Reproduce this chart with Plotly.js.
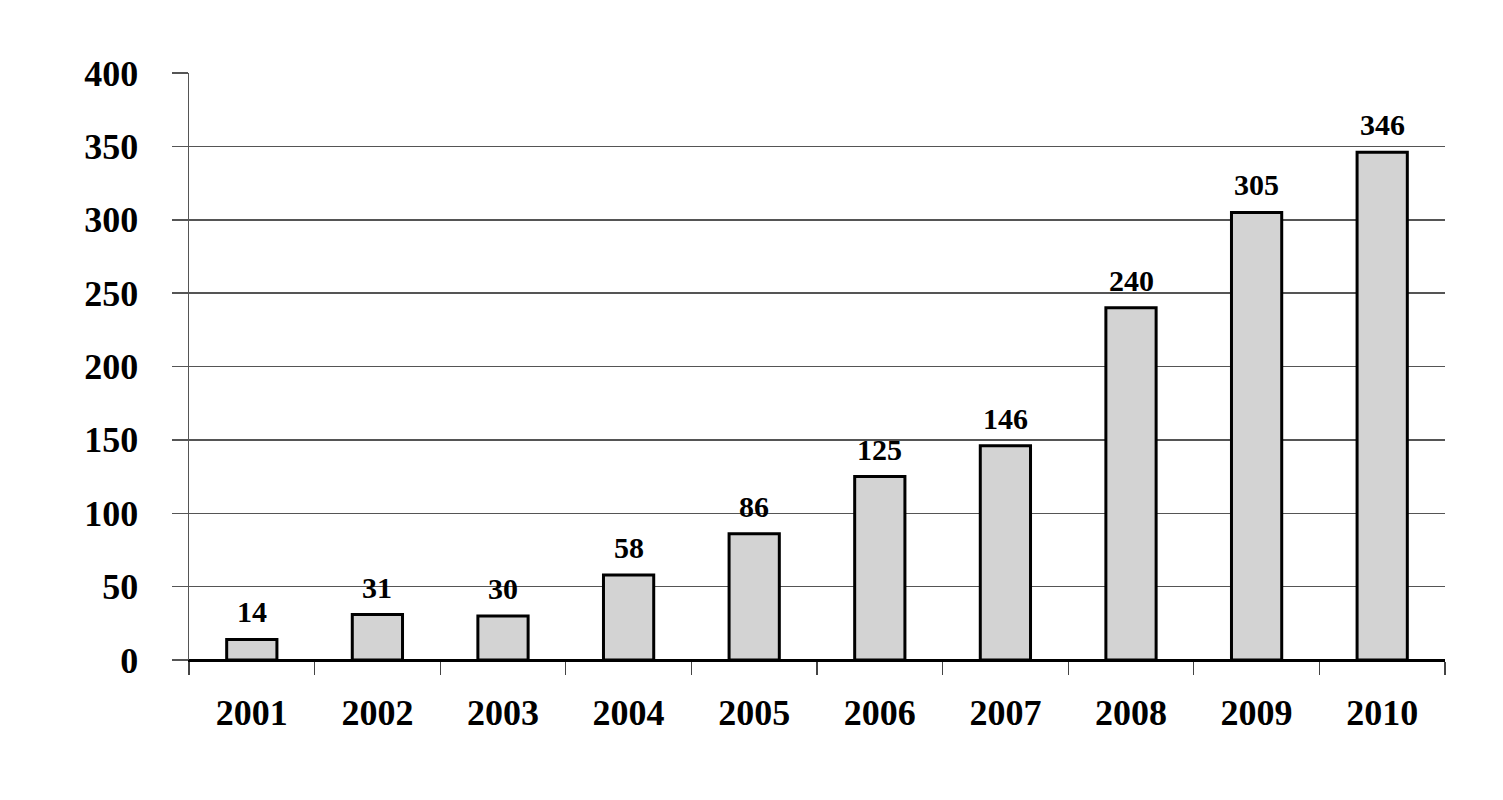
<!DOCTYPE html>
<html>
<head>
<meta charset="utf-8">
<script src="https://cdn.plot.ly/plotly-3.0.1.min.js"></script>
<style>
  body { margin: 0; background: #fff; }
  #chart { width: 1503px; height: 800px; }
</style>
</head>
<body>
<div id="chart"></div>
<script>
var years = ['2001', '2002', '2003', '2004', '2005', '2006', '2007', '2008', '2009', '2010'];
var counts = [14, 31, 30, 58, 86, 125, 146, 240, 305, 346];
var yTicks = [0, 50, 100, 150, 200, 250, 300, 350, 400];

var bars = {
  x: years,
  y: counts,
  type: 'bar',
  marker: { color: '#d3d3d3', line: { color: '#000', width: 3 } },
  hoverinfo: 'none'
};

// value labels above each bar (x as category index)
var labels = counts.map(function (v, i) {
  return {
    x: i,
    y: v,
    xref: 'x',
    yref: 'y',
    text: String(v),
    showarrow: false,
    yanchor: 'bottom',
    yshift: 9,
    font: { family: 'Liberation Serif', size: 30, color: '#000', weight: 'bold' }
  };
});

var layout = {
  width: 1503,
  height: 800,
  margin: { l: 189, r: 58, t: 73, b: 140 },
  paper_bgcolor: '#fff',
  plot_bgcolor: '#fff',
  bargap: 0.6,
  showlegend: false,
  annotations: labels,
  font: { family: 'Liberation Serif', color: '#000' },
  xaxis: {
    type: 'category',
    range: [-0.5, years.length - 0.5],
    tickson: 'boundaries',
    tickangle: 0,
    automargin: false,
    ticks: 'outside',
    ticklen: 13,
    tickwidth: 1.2,
    tickcolor: '#444',
    showgrid: false,
    showline: true,
    linecolor: '#000',
    linewidth: 1.5,
    ticklabelstandoff: 20,
    tickfont: { family: 'Liberation Serif', size: 36, color: '#000', weight: 'bold' }
  },
  yaxis: {
    range: [0, 400],
    tickvals: yTicks,
    ticktext: yTicks.map(String),
    automargin: false,
    ticks: 'outside',
    ticklen: 16,
    tickwidth: 1.5,
    tickcolor: '#555',
    showgrid: true,
    gridcolor: '#555',
    gridwidth: 1.5,
    zeroline: true,
    zerolinecolor: '#000',
    zerolinewidth: 1.5,
    showline: true,
    linecolor: '#555',
    linewidth: 1.5,
    ticklabelstandoff: 26,
    tickfont: { family: 'Liberation Serif', size: 36, color: '#000', weight: 'bold' }
  }
};

Plotly.newPlot(document.getElementById('chart'), [bars], layout, { staticPlot: true });
</script>
</body>
</html>
